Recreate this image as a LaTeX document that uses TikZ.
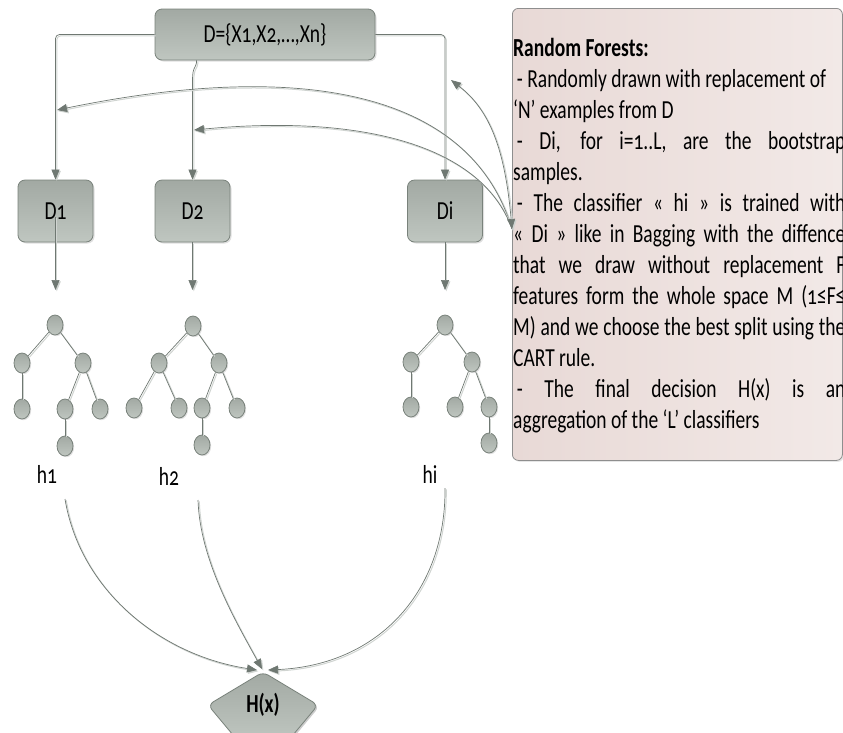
\documentclass[tikz,border=0pt]{standalone}
\usepackage{fontspec}
\setmainfont{Carlito}[Numbers=OldStyle]
\usetikzlibrary{shapes.geometric,shadows,arrows.meta,calc}

\definecolor{boxfillA}{HTML}{A2A9A3}
\definecolor{boxfillB}{HTML}{BFC6C0}
\definecolor{boxline}{HTML}{79827B}
\definecolor{wire}{HTML}{6F7872}
\definecolor{wireshade}{HTML}{D0D4D1}
\definecolor{notefillA}{HTML}{E8D9D6}
\definecolor{notefillB}{HTML}{F2E9E7}
\definecolor{noteline}{HTML}{8E8E8E}

% horizontally condensed text
\newcommand\sq[1]{\scalebox{0.75}[1]{#1}}
\newlength\noteW
\setlength\noteW{443pt}
\newcommand\jline[1]{\makebox[\noteW][s]{#1}}
\newcommand\lline[1]{\makebox[\noteW][l]{#1}}

\begin{document}
\begin{tikzpicture}[x=1pt,y=-1pt,
  font=\fontsize{26}{31}\selectfont,
  databox/.style={draw=boxline, line width=0.8pt, rounded corners=7pt,
    top color=boxfillA, bottom color=boxfillB, inner sep=0pt,
    drop shadow={opacity=0.25, shadow xshift=1.5pt, shadow yshift=-1.5pt}},
  leaf/.style={ellipse, draw=boxline, line width=0.8pt,
    top color=boxfillA, bottom color=boxfillB,
    minimum width=16pt, minimum height=20pt, inner sep=0pt,
    drop shadow={opacity=0.25, shadow xshift=1.2pt, shadow yshift=-1.2pt}},
  link/.style={draw=wire, line width=0.7pt,
    preaction={draw=wireshade, line width=1pt,
      transform canvas={xshift=1.3pt, yshift=-1.3pt}}},
  flow/.style={link, -{Triangle[length=10pt,width=8pt]}},
  twoway/.style={link, {Triangle[length=10pt,width=8pt]}-{Triangle[length=10pt,width=8pt]}},
  lbl/.style={anchor=base, inner sep=0pt}
]
\useasboundingbox (0,0) rectangle (843,732);

% note panel
\node[draw=noteline, line width=0.8pt, rounded corners=6pt,
  left color=notefillA, right color=notefillB,
  minimum width=330pt, minimum height=452pt, inner sep=0pt,
  drop shadow={opacity=0.2, shadow xshift=1.5pt, shadow yshift=-1.5pt},
  anchor=north west] (note) at (512,8) {};
\node[anchor=base west, inner sep=0pt] (notetext) at (513,56) {\sq{\parbox[t]{\noteW}{%
  \fontsize{26}{31}\selectfont
  \lline{\textbf{Random Forests:}}\\
  \lline{\hspace{5pt}- Randomly drawn with replacement of}\\
  \lline{‘N’ examples from D}\\
  \jline{\hspace{5pt}- Di, for i=1..L, are the bootstrap}\\
  \lline{samples.}\\
  \jline{\hspace{5pt}- The classifier « hi » is trained with}\\
  \jline{« Di » like in Bagging with the diffence}\\
  \jline{that we draw without replacement F}\\
  \jline{features form the whole space M (1≤F≤}\\
  \jline{M) and we choose the best split using the}\\
  \lline{CART rule.}\\
  \jline{\hspace{5pt}- The final decision H(x) is an}\\
  \lline{aggregation of the ‘L’ classifiers}}}};

% data set and bootstrap samples
\node[databox, minimum width=220pt, minimum height=51pt] (D) at (265,34.5) {\sq{D=\{X1,X2,…,Xn\}}};
\node[databox, minimum width=75pt, minimum height=62pt] (D1) at (55.5,211) {\sq{D1}};
\node[databox, minimum width=75pt, minimum height=62pt] (D2) at (192.5,211) {\sq{D2}};
\node[databox, minimum width=75pt, minimum height=62pt] (Di) at (445,211) {\sq{Di}};

\coordinate (Dm) at ($(D.south west)+(42,0)$);
\draw[flow, rounded corners=4pt] (D.west) -| (D1.north);
\draw[flow, rounded corners=4pt] (D.east) -| (Di.north);
\draw[flow] (Dm) .. controls +(0,8) and +(0,-14) .. ($(D2.north)+(0,-100)$) -- (D2.north);

% arrows from the note panel
\coordinate (nb) at (512,229);
\coordinate (k1) at (57,110);
\coordinate (k2) at (194,130);
\coordinate (k3) at (451,80);
\draw[flow] (nb) .. controls (470,90) and (300,60) .. (k1);
\draw[flow] (nb) .. controls (480,140) and (350,115) .. (k2);
\draw[twoway] (k3) .. controls (490,110) and (505,150) .. (nb);

% trees
\coordinate (a1) at (55.5,290);
\coordinate (a2) at (192.5,290);
\coordinate (ai) at (445,290);
\draw[flow] ($(D1.center)+(0,6)$) -- (a1);
\draw[flow] (D2.south) -- (a2);
\draw[flow] (Di.south) -- (ai);

\node[leaf] (r1) at (55,325) {};
\node[leaf] (l1) at (22,363) {};
\node[leaf] (m1) at (83,363) {};
\node[leaf] (l1a) at (22,409) {};
\node[leaf] (m1a) at (65,409) {};
\node[leaf] (m1b) at (100,409) {};
\node[leaf] (m1c) at (65,446) {};
\draw[link] (r1) -- (l1);
\draw[link] (r1) -- (m1);
\draw[link] (l1) -- (l1a);
\draw[link] (m1) -- (m1a);
\draw[link] (m1) -- (m1b);
\draw[link] (m1a) -- (m1c);

\node[leaf] (r2) at (193,326) {};
\node[leaf] (l2) at (159,363) {};
\node[leaf] (m2) at (219,363) {};
\node[leaf] (l2a) at (134,408) {};
\node[leaf] (l2b) at (179,408) {};
\node[leaf] (m2a) at (202,408) {};
\node[leaf] (m2b) at (237,408) {};
\node[leaf] (m2c) at (202,445) {};
\draw[link] (r2) -- (l2);
\draw[link] (r2) -- (m2);
\draw[link] (l2) -- (l2a);
\draw[link] (l2) -- (l2b);
\draw[link] (m2) -- (m2a);
\draw[link] (m2) -- (m2b);
\draw[link] (m2a) -- (m2c);

\node[leaf] (r3) at (445,325) {};
\node[leaf] (l3) at (411,362) {};
\node[leaf] (m3) at (472,362) {};
\node[leaf] (l3a) at (411,407) {};
\node[leaf] (m3a) at (455,407) {};
\node[leaf] (m3b) at (489,407) {};
\node[leaf] (m3c) at (489,443) {};
\draw[link] (r3) -- (l3);
\draw[link] (r3) -- (m3);
\draw[link] (l3) -- (l3a);
\draw[link] (m3) -- (m3a);
\draw[link] (m3) -- (m3b);
\draw[link] (m3b) -- (m3c);

% classifiers and aggregation
\node[lbl] (h1) at (47,483) {\sq{h1}};
\node[lbl] (h2) at (169,485) {\sq{h2}};
\node[lbl] (hi) at (430,483) {\sq{hi}};

% decision shape, running off the lower edge
\coordinate (Htop) at (263,672);
\fill[black, opacity=0.2, rounded corners=6pt] ($(Htop)+(1.5,1.5)$) -- ++(-55,33) -- ++(30,36) -- ++(50,0) -- ++(30,-36) -- cycle;
\draw[boxline, line width=0.8pt, rounded corners=6pt, top color=boxfillA, bottom color=boxfillB]
  (Htop) -- ++(-55,33) -- ++(30,36) -- ++(50,0) -- ++(30,-36) -- cycle;
\node[inner sep=0pt] (H) at (263,705) {\sq{\textbf{H(x)}}};

\coordinate (s1) at (65,499);
\coordinate (s2) at (198,500);
\coordinate (si) at (445,488);
\draw[flow] (s1) .. controls (80,590) and (160,655) .. ($(Htop)+(-6,-2)$);
\draw[flow] (s2) .. controls (200,560) and (235,620) .. ($(Htop)+(-1,-3)$);
\draw[flow] (si) .. controls (446,590) and (380,665) .. ($(Htop)+(5,-2)$);
\end{tikzpicture}
\end{document}
